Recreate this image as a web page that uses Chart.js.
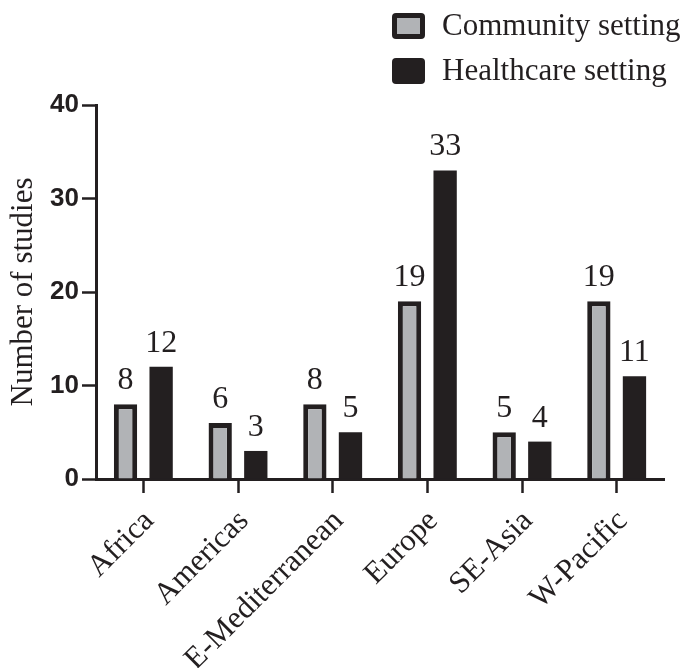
<!DOCTYPE html>
<html>
<head>
<meta charset="utf-8">
<script src="https://cdn.jsdelivr.net/npm/chart.js@4.4.1/dist/chart.umd.min.js"></script>
<style>
  html, body { margin: 0; padding: 0; background: #ffffff; }
  canvas { display: block; }
</style>
</head>
<body>
<canvas id="c" width="683" height="668"></canvas>
<script>
const categories = ["Africa", "Americas", "E-Mediterranean", "Europe", "SE-Asia", "W-Pacific"];
const communityValues = [8, 6, 8, 19, 5, 19];
const healthcareValues = [12, 3, 5, 33, 4, 11];
const seriesNames = ["Community setting", "Healthcare setting"];
const yTicks = [0, 10, 20, 30, 40];

const INK = '#231f20';
const GRAY = '#b1b3b6';
const SERIF = "'Liberation Serif', 'Times New Roman', serif";
const SANS = "'Liberation Sans', Arial, sans-serif";

const valueLabels = {
  id: 'valueLabels',
  afterDatasetsDraw(chart) {
    const ctx = chart.ctx;
    ctx.save();
    ctx.font = '32px ' + SERIF;
    ctx.fillStyle = INK;
    ctx.textAlign = 'center';
    ctx.textBaseline = 'alphabetic';
    chart.data.datasets.forEach((ds, di) => {
      const meta = chart.getDatasetMeta(di);
      meta.data.forEach((el, i) => {
        ctx.fillText(String(ds.data[i]), el.x, el.y - 15);
      });
    });
    ctx.restore();
  }
};

const sideLegend = {
  id: 'sideLegend',
  afterDraw(chart) {
    const ctx = chart.ctx;
    ctx.save();
    const boxX = 392, boxW = 33, boxH = 26;
    const rows = [13, 58];
    chart.data.datasets.forEach((ds, i) => {
      const y = rows[i];
      ctx.beginPath();
      ctx.roundRect(boxX, y, boxW, boxH, 4);
      ctx.fillStyle = INK;
      ctx.fill();
      if (ds.borderWidth > 0) {
        ctx.beginPath();
        ctx.rect(boxX + 5, y + 5, boxW - 10, boxH - 10);
        ctx.fillStyle = ds.backgroundColor;
        ctx.fill();
      }
      ctx.font = '31px ' + SERIF;
      ctx.fillStyle = INK;
      ctx.textAlign = 'left';
      ctx.textBaseline = 'alphabetic';
      ctx.fillText(ds.label, 442, y + 22);
    });
    ctx.restore();
  }
};

new Chart(document.getElementById('c'), {
  type: 'bar',
  data: {
    labels: categories,
    datasets: [
      {
        label: seriesNames[0],
        data: communityValues,
        backgroundColor: GRAY,
        borderColor: INK,
        borderWidth: 5,
        categoryPercentage: 0.752,
        barPercentage: 0.655
      },
      {
        label: seriesNames[1],
        data: healthcareValues,
        backgroundColor: INK,
        borderColor: INK,
        borderWidth: 0,
        categoryPercentage: 0.752,
        barPercentage: 0.655
      }
    ]
  },
  options: {
    responsive: false,
    animation: false,
    layout: { padding: { top: 105, right: 19, left: 0, bottom: 0 } },
    plugins: {
      legend: { display: false },
      tooltip: { enabled: false }
    },
    scales: {
      x: {
        afterFit(scale) { scale.height = 189; },
        grid: {
          display: true,
          offset: false,
          drawOnChartArea: false,
          drawTicks: true,
          tickLength: 14,
          tickWidth: 2.5,
          tickColor: INK
        },
        border: { display: true, color: INK, width: 3 },
        ticks: {
          color: INK,
          font: { family: SERIF, size: 31 },
          minRotation: 45,
          maxRotation: 45,
          padding: 10,
          labelOffset: 6
        }
      },
      y: {
        min: 0,
        max: 40,
        afterFit(scale) { scale.width = 96; },
        afterBuildTicks(scale) { scale.ticks = yTicks.map(v => ({ value: v })); },
        grid: {
          display: true,
          drawOnChartArea: false,
          drawTicks: true,
          tickLength: 14,
          tickWidth: 2.5,
          tickColor: INK
        },
        border: { display: true, color: INK, width: 3 },
        ticks: {
          color: INK,
          font: { family: SANS, size: 26, weight: 'bold' },
          padding: 3
        },
        title: {
          display: true,
          text: 'Number of studies',
          color: INK,
          font: { family: SERIF, size: 31 },
          padding: { top: 5, bottom: 0 }
        }
      }
    }
  },
  plugins: [valueLabels, sideLegend]
});
</script>
</body>
</html>
